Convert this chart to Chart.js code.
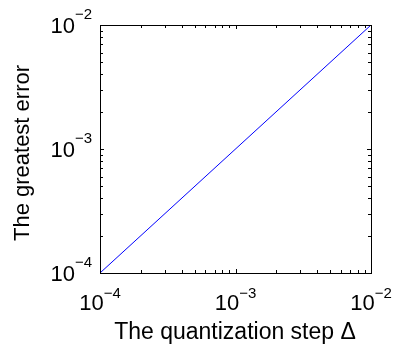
<!DOCTYPE html>
<html>
<head>
<meta charset="utf-8">
<script src="https://cdn.jsdelivr.net/npm/chart.js@4/dist/chart.umd.min.js"></script>
<style>
  html, body { margin: 0; padding: 0; background: #fff; }
  #wrap { width: 393px; height: 347px; }
</style>
</head>
<body>
<div id="wrap"><canvas id="chart" width="393" height="347"></canvas></div>
<script>
// data
var stepValues = [1e-4, 1e-2];
var errorValues = [1e-4, 1e-2];
var xTickExps = [-4, -3, -2];
var yTickExps = [-4, -3, -2];
var xTitle = 'The quantization step \u0394';
var yTitle = 'The greatest error';

var FONT = '"Liberation Sans", Arial, Helvetica, sans-serif';

var points = stepValues.map(function (x, i) { return { x: x, y: errorValues[i] }; });

// minor ticks 2..9 inside each decade
function minorTicks(exps) {
  var out = [];
  for (var i = 0; i < exps.length - 1; i++) {
    for (var m = 2; m <= 9; m++) out.push(m * Math.pow(10, exps[i]));
  }
  return out;
}

// matlab-ish box, inward ticks and 10^n labels
var matlabAxes = {
  id: 'matlabAxes',
  afterDraw: function (chart) {
    var ctx = chart.ctx;
    var a = chart.chartArea;
    var xs = chart.scales.x, ys = chart.scales.y;
    ctx.save();
    ctx.strokeStyle = '#000';
    ctx.lineWidth = 1;
    ctx.strokeRect(Math.round(a.left) + 0.5, Math.round(a.top) + 0.5,
      Math.round(a.right - a.left), Math.round(a.bottom - a.top));

    function tickX(v, len) {
      var px = Math.round(xs.getPixelForValue(v)) + 0.5;
      ctx.beginPath();
      ctx.moveTo(px, a.bottom); ctx.lineTo(px, a.bottom - len);
      ctx.moveTo(px, a.top); ctx.lineTo(px, a.top + len);
      ctx.stroke();
    }
    function tickY(v, len) {
      var py = Math.round(ys.getPixelForValue(v)) + 0.5;
      ctx.beginPath();
      ctx.moveTo(a.left, py); ctx.lineTo(a.left + len, py);
      ctx.moveTo(a.right, py); ctx.lineTo(a.right - len, py);
      ctx.stroke();
    }
    minorTicks(xTickExps).forEach(function (v) { tickX(v, 3); });
    minorTicks(yTickExps).forEach(function (v) { tickY(v, 3); });
    xTickExps.forEach(function (e) { tickX(Math.pow(10, e), 4); });
    yTickExps.forEach(function (e) { tickY(Math.pow(10, e), 4); });

    ctx.fillStyle = '#000';
    ctx.textBaseline = 'alphabetic';
    var big = '22px ' + FONT, small = '15px ' + FONT;

    function labelWidth(e) {
      ctx.font = big; var w1 = ctx.measureText('10').width;
      ctx.font = small; var w2 = ctx.measureText('\u2212' + (-e)).width;
      return [w1, w2];
    }
    function drawLabel(e, x0, base, raise) {
      var w = labelWidth(e);
      ctx.font = big; ctx.textAlign = 'left';
      ctx.fillText('10', x0, base);
      ctx.font = small;
      ctx.fillText('\u2212' + (-e), x0 + w[0], base - raise);
      return w;
    }
    xTickExps.forEach(function (e) {
      var px = xs.getPixelForValue(Math.pow(10, e));
      var w = labelWidth(e);
      drawLabel(e, px - (w[0] + w[1]) / 2, a.bottom + 37, 12);
    });
    yTickExps.forEach(function (e) {
      var py = ys.getPixelForValue(Math.pow(10, e));
      var w = labelWidth(e);
      drawLabel(e, a.left - 8 - (w[0] + w[1]), py + 8, 14);
    });

    // axis titles
    ctx.font = '23px ' + FONT;
    ctx.textAlign = 'center';
    ctx.fillText(xTitle, 235, 339);
    ctx.save();
    ctx.font = '22px ' + FONT;
    ctx.translate(29, 153);
    ctx.rotate(-Math.PI / 2);
    ctx.fillText(yTitle, 0, 0);
    ctx.restore();
    ctx.restore();
  }
};

new Chart(document.getElementById('chart'), {
  type: 'line',
  data: {
    datasets: [{
      data: points,
      borderColor: '#0000ff',
      borderWidth: 1,
      pointRadius: 0,
      fill: false,
      tension: 0
    }]
  },
  options: {
    responsive: false,
    animation: false,
    events: [],
    layout: { padding: { left: 100, top: 25, right: 22, bottom: 74 } },
    plugins: { legend: { display: false }, tooltip: { enabled: false } },
    scales: {
      x: {
        type: 'logarithmic',
        display: false,
        min: 1e-4, max: 1e-2
      },
      y: {
        type: 'logarithmic',
        display: false,
        min: 1e-4, max: 1e-2
      }
    }
  },
  plugins: [matlabAxes]
});
</script>
</body>
</html>
